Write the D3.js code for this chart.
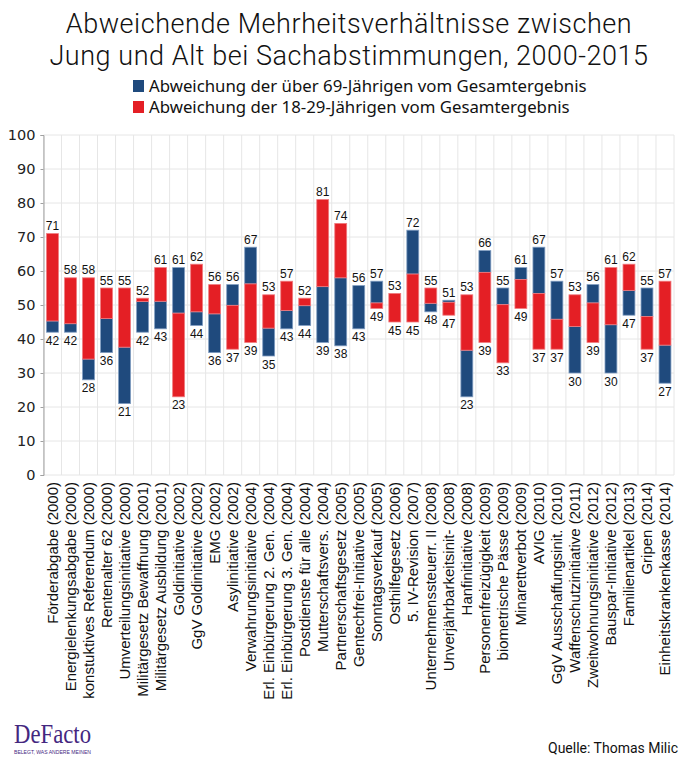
<!DOCTYPE html>
<html><head><meta charset="utf-8">
<script src="https://cdn.jsdelivr.net/npm/d3@7"></script>
<style>
html,body{margin:0;padding:0;background:#fff;}
svg{display:block;}
</style></head>
<body>
<svg id="chart" width="692" height="769"></svg>
<script>
const categories = [
 "Förderabgabe (2000)","Energielenkungsabgabe (2000)","konstuktives Referendum (2000)","Rentenalter 62 (2000)",
 "Umverteilungsinitiative (2000)","Militärgesetz Bewaffnung (2001)","Militärgesetz Ausbildung (2001)","Goldinitiative (2002)",
 "GgV Goldinitiative (2002)","EMG (2002)","Asylinitiative (2002)","Verwahrungsinitiative (2004)",
 "Erl. Einbürgerung 2. Gen. (2004)","Erl. Einbürgerung 3. Gen. (2004)","Postdienste für alle (2004)","Mutterschaftsvers. (2004)",
 "Partnerschaftsgesetz (2005)","Gentechfrei-Initiative (2005)","Sonntagsverkauf (2005)","Osthilfegesetz (2006)",
 "5. IV-Revision (2007)","Unternehmenssteuerr. II (2008)","Unverjährbarkeitsinit- (2008)","Hanfinitiative (2008)",
 "Personenfreizügigkeit (2009)","biometrische Pässe (2009)","Minarettverbot (2009)","AVIG (2010)",
 "GgV Ausschaffungsinit. (2010)","Waffenschutzinitiative (2011)","Zweitwohnungsinitiative (2012)","Bauspar-Initiative (2012)",
 "Familienartikel (2013)","Gripen (2014)","Einheitskrankenkasse (2014)"
];
// Gesamtergebnis (Ja-Anteil)
const gesamt = [45.3,44.5,34.1,46.0,37.6,51.0,51.1,47.6,48.0,47.4,49.9,56.2,43.2,48.4,49.8,55.4,58.0,55.7,50.6,53.4,59.1,50.5,50.8,36.7,59.6,50.1,57.5,53.4,45.8,43.7,50.6,44.2,54.3,46.6,38.2];
// über 69-Jährige
const alt = [42,42,28,36,21,42,43,61,44,36,56,67,35,43,44,39,38,43,57,53.4,72,48,51.4,23,66,55,61,67,57,30,56,30,47,55,27];
// 18-29-Jährige
const jung = [71,58,58,55,55,52,61,23,62,56,37,39,53,57,52,81,74,55.7,49,45,45,55,47,53,39,33,49,37,37,53,39,61,62,37,57];
const yTicks = [0,10,20,30,40,50,60,70,80,90,100];
const seriesNames = ["Abweichung der über 69-Jährigen vom Gesamtergebnis","Abweichung der 18-29-Jährigen vom Gesamtergebnis"];
const titleLines = ["Abweichende Mehrheitsverhältnisse zwischen","Jung und Alt bei Sachabstimmungen, 2000-2015"];

const BLUE = "#1f4a7d", RED = "#e41f25";
const svg = d3.select("#chart");
const pLeft = 43.5, pRight = 674, pTop = 135, pBottom = 475;

const x = d3.scaleBand().domain(categories).range([pLeft, pRight]).paddingInner(0.34).paddingOuter(0.17);
const y = d3.scaleLinear().domain([0,100]).range([pBottom, pTop]);

// title
svg.append("g").selectAll("text").data(titleLines).join("text")
  .attr("x", 349).attr("y", (d,i) => 33 + i*32)
  .attr("text-anchor","middle")
  .attr("font-family","Roboto, sans-serif").attr("font-weight",300).attr("font-size", 27)
  .attr("letter-spacing", 0.55).attr("fill","#111")
  .text(d => d);

// legend
const lg = svg.append("g");
seriesNames.forEach((s,i) => {
  lg.append("rect").attr("x",133).attr("y",80 + i*21).attr("width",11).attr("height",12)
    .attr("fill", i===0 ? BLUE : RED);
  lg.append("text").attr("x",149).attr("y",91.5 + i*21)
    .attr("font-family","'Noto Sans', sans-serif").attr("font-size",16.8).attr("fill","#111").text(s);
});

// grid
const grid = svg.append("g");
grid.selectAll("line.h").data(yTicks).join("line").attr("class","h")
  .attr("x1", pLeft).attr("x2", pRight).attr("y1", d => y(d)).attr("y2", d => y(d))
  .attr("stroke","#e6e6e6").attr("stroke-width",1);
const step = x.step();
const vlines = d3.range(categories.length + 1).map(i => pLeft + i*step);
grid.selectAll("line.v").data(vlines).join("line").attr("class","v")
  .attr("x1", d => d).attr("x2", d => d).attr("y1", pTop).attr("y2", pBottom)
  .attr("stroke","#e6e6e6").attr("stroke-width",1);

// y axis
const yAxis = svg.append("g").attr("transform",`translate(${pLeft},0)`)
  .call(d3.axisLeft(y).tickValues(yTicks).tickSize(3).tickPadding(5));
yAxis.select(".domain").attr("stroke","#a0a0a0");
yAxis.selectAll(".tick line").attr("stroke","#a0a0a0");
yAxis.selectAll("text").attr("font-family","'DejaVu Sans', sans-serif").attr("font-size",14.5).attr("fill","#222");

// x axis labels
const xAxis = svg.append("g").attr("transform",`translate(0,${pBottom})`)
  .call(d3.axisBottom(x).tickSize(0).tickPadding(0));
xAxis.select(".domain").remove();
xAxis.selectAll("text")
  .attr("font-family","'Liberation Sans', Arial, sans-serif").attr("font-size",15).attr("fill","#111")
  .attr("transform","rotate(-90)").attr("text-anchor","end")
  .attr("x",-7).attr("y",0).attr("dy","0.35em");

// bars
const bw = x.bandwidth();
const bars = svg.append("g");
categories.forEach((c,i) => {
  const g0 = gesamt[i];
  bars.append("rect")
    .attr("x", x(c)).attr("width", bw)
    .attr("y", y(Math.max(g0, alt[i]))).attr("height", Math.abs(y(g0) - y(alt[i])))
    .attr("fill", BLUE).attr("stroke","#7f9cc0").attr("stroke-width",0.8);
  bars.append("rect")
    .attr("x", x(c)).attr("width", bw)
    .attr("y", y(Math.max(g0, jung[i]))).attr("height", Math.abs(y(g0) - y(jung[i])))
    .attr("fill", RED).attr("stroke","#f07a7e").attr("stroke-width",0.8);
});

// value labels
const labels = svg.append("g").attr("font-family","'Liberation Sans', Arial, sans-serif")
  .attr("font-size",12).attr("fill","#111").attr("text-anchor","middle");
categories.forEach((c,i) => {
  const hi = Math.max(alt[i], jung[i], gesamt[i]);
  const lo = Math.min(alt[i], jung[i], gesamt[i]);
  const cx = x(c) + bw/2;
  labels.append("text").attr("x", cx).attr("y", y(hi) - 3.5).text(Math.round(hi));
  labels.append("text").attr("x", cx).attr("y", y(lo) + 12.5).text(Math.round(lo));
});

// footer
svg.append("text").attr("x",14).attr("y",743)
  .attr("font-family","'Liberation Serif', serif").attr("font-size",28).attr("fill","#44277f")
  .attr("textLength",77).attr("lengthAdjust","spacingAndGlyphs").text("DeFacto");
svg.append("text").attr("x",14).attr("y",754)
  .attr("font-family","'Liberation Sans', Arial, sans-serif").attr("font-size",6).attr("fill","#44277f")
  .attr("textLength",77).attr("lengthAdjust","spacingAndGlyphs")
  .text("BELEGT, WAS ANDERE MEINEN");
svg.append("text").attr("x",678).attr("y",753).attr("text-anchor","end")
  .attr("font-family","Roboto, sans-serif").attr("font-size",14).attr("fill","#111")
  .text("Quelle: Thomas Milic");
</script>
</body></html>
